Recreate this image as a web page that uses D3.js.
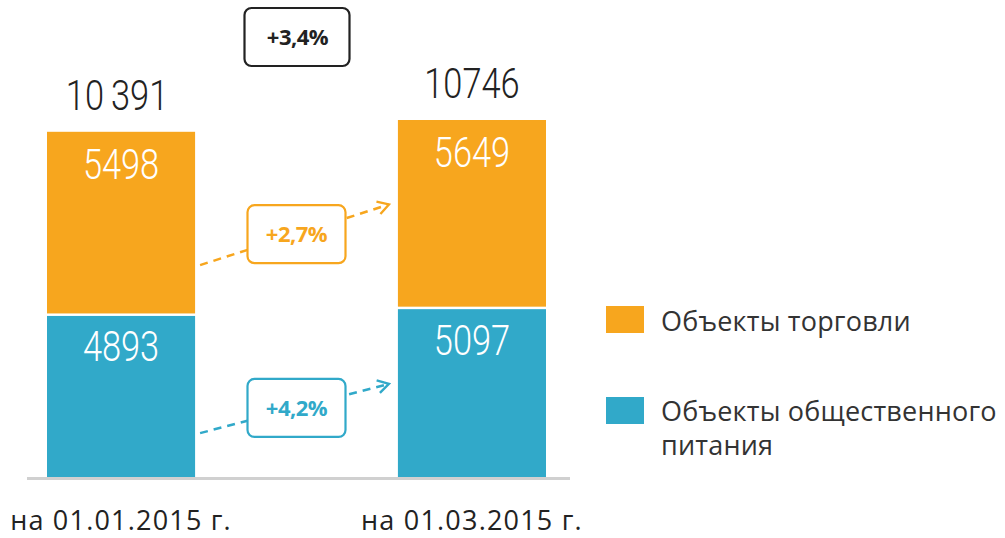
<!DOCTYPE html>
<html>
<head>
<meta charset="utf-8">
<script src="https://cdn.jsdelivr.net/npm/d3@7"></script>
<style>
  body { margin: 0; background: #fff; }
  svg { display: block; }
</style>
</head>
<body>
<div id="chart"></div>
<script>
// data
const categories = ['на 01.01.2015 г.', 'на 01.03.2015 г.'];
const trade = [5498, 5649];   // Объекты торговли
const food = [4893, 5097];    // Объекты общественного питания
const seriesNames = ['Объекты торговли', 'Объекты общественного питания'];
const totalLabels = ['10\u2009391', '10746'];
const tradeChange = '+2,7%';
const foodChange = '+4,2%';
const totalChange = '+3,4%';

const width = 1005;
const height = 538;
const orange = '#f7a61e';
const blue = '#31a9c9';
const numFont = 'Roboto, "Liberation Sans", sans-serif';
const textFont = '"Open Sans", "Noto Sans", sans-serif';

const svg = d3.select('#chart')
  .append('svg')
  .attr('width', width)
  .attr('height', height);

const x = d3.scaleBand()
  .domain(categories)
  .range([47, 546])
  .paddingInner(0.578)
  .paddingOuter(0);

const y = d3.scaleLinear()
  .domain([0, d3.max(categories, (d, i) => trade[i] + food[i])])
  .range([477, 120]);

const rows = categories.map((c, i) => ({ cat: c, food: food[i], trade: trade[i] }));
const stack = d3.stack().keys(['food', 'trade'])(rows);
const colors = { food: blue, trade: orange };

// condensed light number text
function numText(sel, cx, cy, fill) {
  return sel.append('text')
    .attr('transform', `translate(${cx},${cy}) scale(0.8,1)`)
    .attr('text-anchor', 'middle')
    .attr('fill', fill)
    .style('font-family', numFont)
    .style('font-weight', 300)
    .style('font-size', '43px');
}

// axis line
svg.append('line')
  .attr('x1', 27).attr('x2', 570)
  .attr('y1', y(0) + 1.5).attr('y2', y(0) + 1.5)
  .attr('stroke', '#d0d0d0')
  .attr('stroke-width', 3);

// bars
stack.forEach((layer) => {
  const g = svg.append('g');
  g.selectAll('rect')
    .data(layer)
    .enter()
    .append('rect')
    .attr('x', (d) => x(d.data.cat))
    .attr('width', x.bandwidth())
    .attr('y', (d) => y(d[1]) + (layer.key === 'food' ? 1.5 : 0))
    .attr('height', (d) => y(d[0]) - y(d[1]) - (layer.key === 'food' ? 1.5 : 1))
    .attr('fill', colors[layer.key]);

  layer.forEach((d) => {
    numText(g, x(d.data.cat) + x.bandwidth() / 2, y(d[1]) + 47, '#fff')
      .text(d[1] - d[0]);
  });
});

// totals
rows.forEach((d, i) => {
  numText(svg, x(d.cat) + x.bandwidth() / 2 - (i === 0 ? 4 : 0), y(d.food + d.trade) - 22, '#222')
    .text(totalLabels[i]);
});

// category labels
svg.selectAll('.cat')
  .data(categories)
  .enter()
  .append('text')
  .attr('class', 'cat')
  .attr('x', (d) => x(d) + x.bandwidth() / 2)
  .attr('y', 530)
  .attr('text-anchor', 'middle')
  .attr('fill', '#222')
  .style('font-family', textFont)
  .style('font-size', '27px')
  .style('letter-spacing', '1.2px')
  .text((d) => d);

// arrows with percent boxes
const defs = svg.append('defs');
[['arrowO', orange], ['arrowB', blue]].forEach(([id, col]) => {
  defs.append('marker')
    .attr('id', id)
    .attr('viewBox', '0 0 16 16')
    .attr('refX', 14).attr('refY', 8)
    .attr('markerWidth', 16).attr('markerHeight', 16)
    .attr('markerUnits', 'userSpaceOnUse')
    .attr('orient', 'auto')
    .append('path')
    .attr('d', 'M3,1.5 L14,8 L3,14.5')
    .attr('fill', 'none')
    .attr('stroke', col)
    .attr('stroke-width', 2.4);
});

const x0 = x(categories[0]) + x.bandwidth() + 5;
const x1 = x(categories[1]) - 9;
const midX = (x(categories[0]) + x.bandwidth() + x(categories[1])) / 2;

function arrow(layer, col, marker, label) {
  // start 73% down the first segment, end 45% down the second
  const ya = y(layer[0][1]) + 0.73 * (y(layer[0][0]) - y(layer[0][1]));
  const yb = y(layer[1][1]) + 0.45 * (y(layer[1][0]) - y(layer[1][1]));
  svg.append('line')
    .attr('x1', x0).attr('y1', ya)
    .attr('x2', x1).attr('y2', yb)
    .attr('stroke', col)
    .attr('stroke-width', 2.5)
    .attr('stroke-dasharray', '8,6')
    .attr('marker-end', `url(#${marker})`);
  const yc = ya + (yb - ya) * (midX - x0) / (x1 - x0);
  svg.append('rect')
    .attr('x', midX - 49).attr('y', yc - 29)
    .attr('width', 98).attr('height', 58)
    .attr('rx', 7)
    .attr('fill', '#fff')
    .attr('stroke', col)
    .attr('stroke-width', 2.2);
  svg.append('text')
    .attr('x', midX).attr('y', yc + 8)
    .attr('text-anchor', 'middle')
    .attr('fill', col)
    .style('font-family', textFont)
    .style('font-weight', 'bold')
    .style('font-size', '22px')
    .style('letter-spacing', '-0.5px')
    .text(label);
}

arrow(stack[1], orange, 'arrowO', tradeChange);
arrow(stack[0], blue, 'arrowB', foodChange);

// total change box
svg.append('rect')
  .attr('x', midX - 52).attr('y', 8)
  .attr('width', 105).attr('height', 58)
  .attr('rx', 7)
  .attr('fill', '#fff')
  .attr('stroke', '#222')
  .attr('stroke-width', 2.2);
svg.append('text')
  .attr('x', midX + 1).attr('y', 45)
  .attr('text-anchor', 'middle')
  .attr('fill', '#222')
  .style('font-family', textFont)
  .style('font-weight', 'bold')
  .style('font-size', '22px')
  .style('letter-spacing', '-0.5px')
  .text(totalChange);

// legend
const legend = svg.append('g').attr('transform', 'translate(606,0)');
const legendY = [306, 397];
[orange, blue].forEach((col, i) => {
  legend.append('rect')
    .attr('x', 0).attr('y', legendY[i])
    .attr('width', 38).attr('height', 27)
    .attr('fill', col);
});
legend.append('text')
  .attr('x', 55).attr('y', 331)
  .attr('fill', '#333')
  .style('font-family', textFont)
  .style('font-size', '27px')
  .style('letter-spacing', '0.2px')
  .text(seriesNames[0]);
const t2 = legend.append('text')
  .attr('x', 55).attr('y', 421)
  .attr('fill', '#333')
  .style('font-family', textFont)
  .style('font-size', '27px')
  .style('letter-spacing', '0.2px');
t2.append('tspan').attr('x', 55).text('Объекты общественного');
t2.append('tspan').attr('x', 55).attr('dy', 34).text('питания');
</script>
</body>
</html>
